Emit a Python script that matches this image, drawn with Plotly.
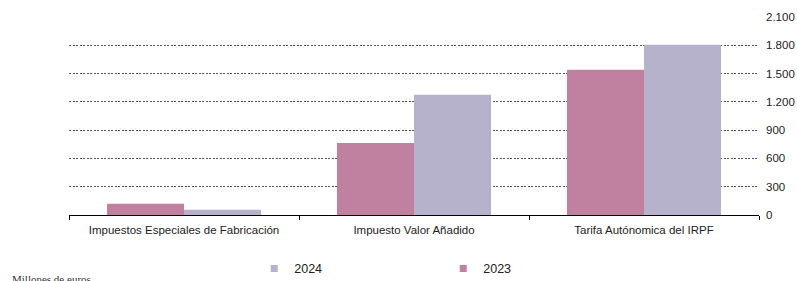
import plotly.graph_objects as go

categories = ["Impuestos Especiales de Fabricación", "Impuesto Valor Añadido", "Tarifa Autónomica del IRPF"]
values_2023 = [120, 763, 1540]
values_2024 = [56, 1275, 1805]
tick_vals = [0, 300, 600, 900, 1200, 1500, 1800, 2100]
color_2023 = "#C0809F"
color_2024 = "#B7B2CB"

fig = go.Figure()
fig.add_trace(go.Bar(name="2023", x=categories, y=values_2023, marker_color=color_2023,
                     marker_line_width=0, showlegend=False))
fig.add_trace(go.Bar(name="2024", x=categories, y=values_2024, marker_color=color_2024,
                     marker_line_width=0, showlegend=False))
# legend-only entries (small square symbols as in the reference)
fig.add_trace(go.Scatter(name="2024", x=[None], y=[None], mode="markers",
                         marker=dict(symbol="square", size=7, color=color_2024)))
fig.add_trace(go.Scatter(name="2023", x=[None], y=[None], mode="markers",
                         marker=dict(symbol="square", size=7, color=color_2023)))

fig.update_layout(
    width=797, height=281,
    margin=dict(l=69, r=38, t=16, b=66, autoexpand=False),
    paper_bgcolor="white", plot_bgcolor="white",
    barmode="group", bargap=0.33, bargroupgap=0,
    separators=",.",
    font=dict(family="Liberation Sans, Arial", size=11, color="#222222"),
    legend=dict(orientation="h", xref="container", yref="container", x=0.319, xanchor="left",
                y=0.043, yanchor="middle", entrywidth=144, entrywidthmode="pixels",
                font=dict(size=12.5, color="#222222")),
    showlegend=True,
    annotations=[dict(text="Millones de euros", xref="paper", yref="paper", x=-0.0855, y=-0.32,
                      xanchor="left", yanchor="middle", showarrow=False,
                      font=dict(family="Liberation Serif, Times New Roman", size=11, color="#333333"))],
)
fig.update_xaxes(showline=True, linecolor="black", linewidth=1, ticks="outside", tickson="boundaries",
                 ticklen=4, tickcolor="black", showgrid=False, tickfont=dict(size=11.5),
                 automargin=False, ticklabelstandoff=4)
fig.update_yaxes(side="right", range=[0, 2110], tickvals=tick_vals, showgrid=True, gridcolor="#555555",
                 griddash="2px,1.5px", gridwidth=1, zeroline=False, showline=False, ticks="",
                 tickformat=",d", tickfont=dict(size=11.5), automargin=False, ticklabelstandoff=6)
fig.write_html("out.html", config={"displayModeBar": False},
               post_script="document.body.style.margin='0';document.body.style.overflow='hidden';")
